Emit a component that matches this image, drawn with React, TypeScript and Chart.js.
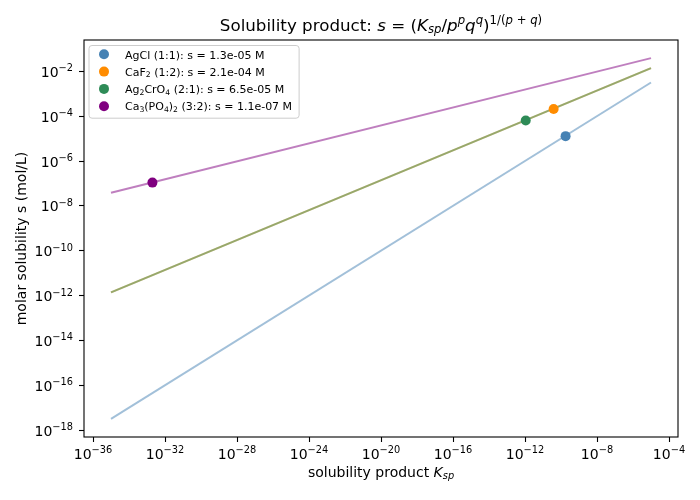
import { useEffect, useRef } from "react";
import { Chart, registerables } from "chart.js";
Chart.register(...registerables);

const FONT = "'DejaVu Sans', sans-serif";

// Ksp at the two ends of each s(Ksp) line
const lineKsp = [1e-35, 1e-5];
// s at those ends
const agclLine = [3.2e-18, 3.2e-3];
const caf2Line = [1.4e-12, 1.4e-2];
const ag2cro4Line = [1.4e-12, 1.4e-2];
const ca3po42Line = [3.9e-8, 3.9e-2];

// the four salts
const saltLabels = [
  "AgCl (1:1): s = 1.3e-05 M",
  "CaF₂ (1:2): s = 2.1e-04 M",
  "Ag₂CrO₄ (2:1): s = 6.5e-05 M",
  "Ca₃(PO₄)₂ (3:2): s = 1.1e-07 M",
];
const saltKsp = [1.8e-10, 3.9e-11, 1.1e-12, 2.0e-33];
const saltS = [1.3e-5, 2.1e-4, 6.5e-5, 1.1e-7];
const saltColors = ["#4682b4", "#ff8c00", "#2e8b57", "#800080"];
const lineColors = [
  "rgba(70,130,180,0.5)",
  "rgba(255,140,0,0.5)",
  "rgba(46,139,87,0.5)",
  "rgba(128,0,128,0.5)",
];

const xTicks = [1e-36, 1e-32, 1e-28, 1e-24, 1e-20, 1e-16, 1e-12, 1e-8, 1e-4];
const yTicks = [1e-18, 1e-16, 1e-14, 1e-12, 1e-10, 1e-8, 1e-6, 1e-4, 1e-2];

type Seg = { t: string; it?: boolean; sub?: boolean; sup?: boolean };

function segFont(s: Seg, size: number) {
  const sz = s.sub || s.sup ? size * 0.7 : size;
  return `${s.it ? "italic " : ""}${sz}px ${FONT}`;
}

function richWidth(ctx: CanvasRenderingContext2D, segs: Seg[], size: number) {
  let w = 0;
  for (const s of segs) {
    ctx.font = segFont(s, size);
    w += ctx.measureText(s.t).width;
  }
  return w;
}

function drawRich(ctx: CanvasRenderingContext2D, segs: Seg[], x: number, y: number, size: number, align: string) {
  const w = richWidth(ctx, segs, size);
  let cx = align === "center" ? x - w / 2 : align === "right" ? x - w : x;
  ctx.textAlign = "left";
  ctx.textBaseline = "alphabetic";
  for (const s of segs) {
    ctx.font = segFont(s, size);
    const dy = s.sup ? -0.4 * size : s.sub ? 0.15 * size : 0;
    ctx.fillText(s.t, cx, y + dy);
    cx += ctx.measureText(s.t).width;
  }
}

// turn unicode subscript digits into small lowered segments
const SUBS = "₀₁₂₃₄₅₆₇₈₉";
function subSegs(label: string): Seg[] {
  const out: Seg[] = [];
  for (const ch of label) {
    const k = SUBS.indexOf(ch);
    const seg: Seg = k >= 0 ? { t: String(k), sub: true } : { t: ch };
    const last = out[out.length - 1];
    if (last && !!last.sub === !!seg.sub) last.t += seg.t;
    else out.push(seg);
  }
  return out;
}

function pow10(v: number): Seg[] {
  const e = Math.round(Math.log10(v));
  return [{ t: "10" }, { t: (e < 0 ? "\u2212" : "") + Math.abs(e), sup: true }];
}

const titleSegs: Seg[] = [
  { t: "Solubility product: " },
  { t: "s", it: true },
  { t: " = " },
  { t: "(" },
  { t: "K", it: true },
  { t: "sp", it: true, sub: true },
  { t: "/" },
  { t: "p", it: true },
  { t: "p", it: true, sup: true },
  { t: "q", it: true },
  { t: "q", it: true, sup: true },
  { t: ")" },
  { t: "1/(", sup: true },
  { t: "p", it: true, sup: true },
  { t: " + ", sup: true },
  { t: "q", it: true, sup: true },
  { t: ")", sup: true },
];
const xLabelSegs: Seg[] = [
  { t: "solubility product " },
  { t: "K", it: true },
  { t: "sp", it: true, sub: true },
];
const yLabel = "molar solubility s (mol/L)";

const decorations = {
  id: "decorations",
  afterDraw(chart: any) {
    const ctx: CanvasRenderingContext2D = chart.ctx;
    const a = chart.chartArea;
    const xs = chart.scales.x;
    const ys = chart.scales.y;
    ctx.save();
    ctx.fillStyle = "#000";

    // frame
    ctx.strokeStyle = "#000";
    ctx.lineWidth = 1.1;
    ctx.strokeRect(a.left, a.top, a.right - a.left, a.bottom - a.top);

    // tick labels
    for (const t of xs.ticks) {
      drawRich(ctx, pow10(t.value), xs.getPixelForValue(t.value), a.bottom + 21.5, 14, "center");
    }
    for (const t of ys.ticks) {
      drawRich(ctx, pow10(t.value), a.left - 11, ys.getPixelForValue(t.value) + 5.5, 14, "right");
    }

    // title and axis labels
    const cx = (a.left + a.right) / 2;
    drawRich(ctx, titleSegs, cx, 30.5, 16.7, "center");
    drawRich(ctx, xLabelSegs, cx, 477, 14, "center");
    ctx.save();
    ctx.translate(26, (a.top + a.bottom) / 2);
    ctx.rotate(-Math.PI / 2);
    ctx.font = `14px ${FONT}`;
    ctx.textAlign = "center";
    ctx.textBaseline = "alphabetic";
    ctx.fillText(yLabel, 0, 0);
    ctx.restore();

    // legend
    const legendSegs = saltLabels.map(subSegs);
    let tw = 0;
    for (const s of legendSegs) tw = Math.max(tw, richWidth(ctx, s, 11));
    const lx = a.left + 5;
    const ly = a.top + 5.5;
    const lw = 125 - lx + tw + 7;
    const rowH = 17.3;
    const lh = rowH * saltLabels.length + 3.5;
    ctx.beginPath();
    ctx.roundRect(lx, ly, lw, lh, 3);
    ctx.fillStyle = "rgba(255,255,255,0.8)";
    ctx.fill();
    ctx.strokeStyle = "#cccccc";
    ctx.lineWidth = 1;
    ctx.stroke();
    legendSegs.forEach((segs, i) => {
      const y = ly + 8.8 + i * rowH;
      ctx.beginPath();
      ctx.arc(104, y, 5, 0, Math.PI * 2);
      ctx.fillStyle = saltColors[i];
      ctx.fill();
      ctx.fillStyle = "#000";
      drawRich(ctx, segs, 125, y + 4.2, 11, "left");
    });
    ctx.restore();
  },
};

const lines = [agclLine, caf2Line, ag2cro4Line, ca3po42Line];

export default function App() {
  const chartRef = useRef<HTMLCanvasElement>(null);
  const chartInstance = useRef<Chart | null>(null);

  useEffect(() => {
    if (!chartRef.current) return;
    if (chartInstance.current) chartInstance.current.destroy();

    const lineSets = lines.map((s, i) => ({
      label: saltLabels[i],
      data: lineKsp.map((k, j) => ({ x: k, y: s[j] })),
      showLine: true,
      borderColor: lineColors[i],
      backgroundColor: lineColors[i],
      borderWidth: 2,
      pointRadius: 0,
      order: 4 - i,
    }));
    const pointSets = saltLabels.map((l, i) => ({
      label: l,
      data: [{ x: saltKsp[i], y: saltS[i] }],
      backgroundColor: saltColors[i],
      borderWidth: 0,
      pointRadius: 5,
      order: 0,
    }));

    const tickGrid = {
      drawOnChartArea: false,
      drawTicks: true,
      tickLength: 5,
      tickColor: "#000",
      tickWidth: 1.1,
    };

    chartInstance.current = new Chart(chartRef.current, {
      type: "scatter",
      data: { datasets: [...lineSets, ...pointSets] as any },
      plugins: [decorations],
      options: {
        animation: false,
        responsive: true,
        maintainAspectRatio: false,
        layout: { padding: { top: 40, right: 22, bottom: 0, left: 0 } },
        plugins: {
          legend: { display: false },
          tooltip: { enabled: false },
          title: { display: false },
        },
        scales: {
          x: {
            type: "logarithmic",
            min: 10 ** -36.5,
            max: 10 ** -3.5,
            afterBuildTicks: (s: any) => {
              s.ticks = xTicks.map((v) => ({ value: v }));
            },
            afterFit: (s: any) => {
              s.height = 63;
            },
            ticks: { display: false },
            grid: tickGrid,
            border: { display: false },
          },
          y: {
            type: "logarithmic",
            min: 10 ** -18.3,
            max: 10 ** -0.6,
            afterBuildTicks: (s: any) => {
              s.ticks = yTicks.map((v) => ({ value: v }));
            },
            afterFit: (s: any) => {
              s.width = 84;
            },
            ticks: { display: false },
            grid: tickGrid,
            border: { display: false },
          },
        },
      },
    });

    return () => {
      chartInstance.current?.destroy();
      chartInstance.current = null;
    };
  }, []);

  return (
    <div style={{ position: "absolute", left: 0, top: 0, width: 700, height: 500, background: "#fff" }}>
      <canvas ref={chartRef}></canvas>
    </div>
  );
}
